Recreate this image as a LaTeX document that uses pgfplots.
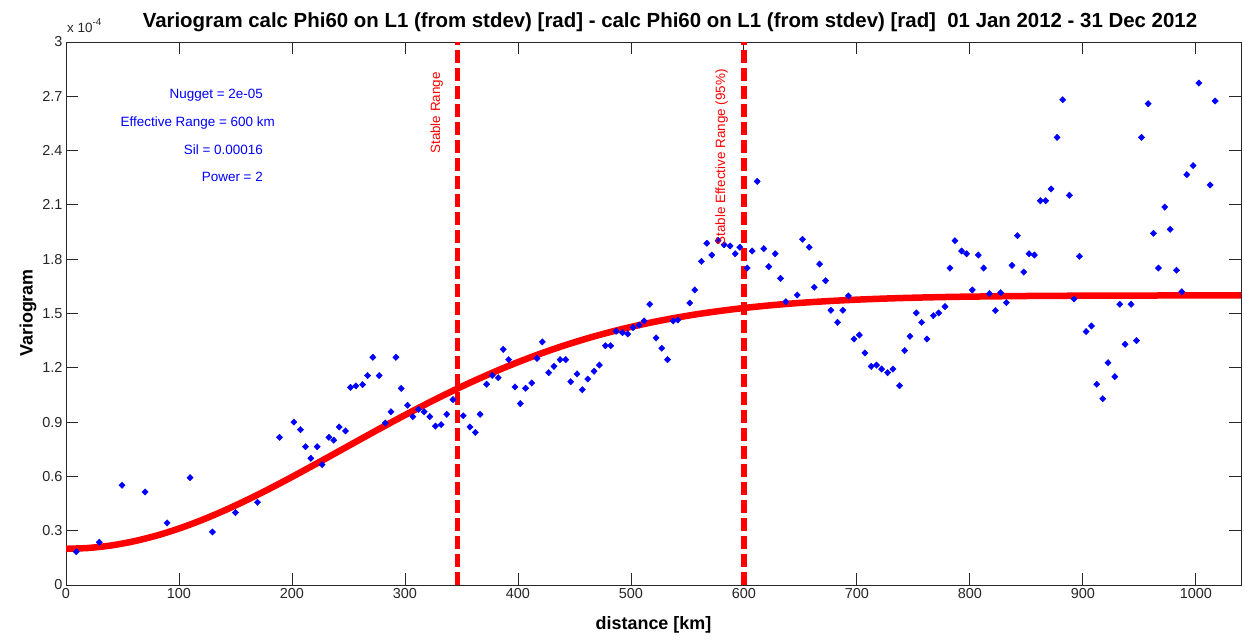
\documentclass[border=0pt]{standalone}
\usepackage{fontspec}
\setmainfont{Liberation Sans}
\usepackage{pgfplots}
\pgfplotsset{compat=1.18}
\definecolor{mblue}{RGB}{0,0,255}
\definecolor{mred}{RGB}{255,0,0}
\begin{document}
\begin{tikzpicture}[x=1bp,y=1bp]
\path[use as bounding box] (0,0) rectangle (1244,642);
\begin{axis}[
  at={(66bp,57bp)}, anchor=south west,
  scale only axis, width=1175bp, height=543bp,
  xmin=0, xmax=1040, ymin=0, ymax=3,
  xtick={0,100,200,300,400,500,600,700,800,900,1000},
  xticklabels={0,100,200,300,400,500,600,700,800,900,1000},
  ytick={0,0.3,0.6,0.9,1.2,1.5,1.8,2.1,2.4,2.7,3},
  yticklabels={0,0.3,0.6,0.9,1.2,1.5,1.8,2.1,2.4,2.7,3},
  tick pos=both, xticklabel pos=lower, yticklabel pos=left,
  tick align=inside, major tick length=12bp,
  tick style={black!85, line width=0.8bp},
  axis line style={black!85, line width=0.8bp},
  ticklabel style={font=\fontsize{14.5}{16}\selectfont, black!85},
  /pgf/number format/assume math mode=true,
  clip=true,
]
% data points
\addplot[only marks, mark=diamond*, mark size=3.2bp, mblue, mark options={draw=mblue, fill=mblue, xscale=1.3}] coordinates {
(9.1,0.184) (29.5,0.236) (49.6,0.551) (70,0.514) (89.5,0.343) (109.8,0.593)
(129.6,0.293) (150,0.40) (169.5,0.457) (189,0.816) (201.7,0.90) (207.5,0.858)
(212,0.764) (216.7,0.70) (222.3,0.764) (226.7,0.665) (232.7,0.816) (237,0.80)
(241.8,0.873) (247.4,0.851) (251.8,1.092) (256.6,1.10) (262.5,1.107) (266.9,1.157)
(271.6,1.258) (277.2,1.157) (282.6,0.895) (287.6,0.957) (292,1.258) (296.7,1.086)
(302.3,0.993) (307,0.93) (312,0.97) (317,0.957) (322,0.93) (327,0.878)
(332,0.886) (337,0.943) (342.5,1.024) (351.6,0.935) (357.5,0.873) (362.3,0.843)
(366.5,0.943) (372.3,1.109) (377.3,1.158) (382.6,1.145) (387,1.302) (391.8,1.245)
(397.4,1.094) (402.1,1.002) (406.8,1.087) (412.2,1.116) (416.9,1.252) (421.6,1.343)
(427.2,1.173) (431.9,1.208) (437.3,1.245) (442.3,1.245) (446.7,1.123) (452.3,1.166)
(457,1.079) (461.8,1.138) (467.4,1.181) (472.1,1.215) (477.4,1.322) (482.1,1.322)
(486.9,1.402) (492.5,1.394) (497.2,1.387) (501.9,1.422) (507.3,1.436) (511.7,1.459)
(516.7,1.551) (522.3,1.365) (527.3,1.308) (532.4,1.245) (537.4,1.459) (541.5,1.464)
(552.1,1.558) (556.5,1.63) (562.4,1.788) (567.2,1.888) (571.6,1.823) (577.2,1.903)
(582.5,1.880) (587.8,1.873) (592.3,1.830) (596.4,1.866) (602.9,1.751) (607.3,1.845)
(611.8,2.230) (617.6,1.858) (622,1.759) (627.7,1.830) (632.4,1.694) (637.1,1.565)
(647.2,1.602) (651.9,1.910) (657.8,1.866) (662.3,1.645) (667,1.773) (672.3,1.681)
(677,1.518) (682.9,1.451) (687.6,1.518) (692.5,1.597) (697.5,1.359) (702.2,1.381)
(707.1,1.282) (712.7,1.208) (717.4,1.215) (721.9,1.193) (727.2,1.173) (731.9,1.193)
(737.8,1.101) (742.3,1.295) (747,1.374) (752.6,1.503) (757.3,1.451) (762,1.359)
(767.7,1.488) (772.4,1.503) (778,1.538) (782.4,1.751) (786.8,1.902) (792.7,1.845)
(797.1,1.830) (802.2,1.630) (807.5,1.823) (812.2,1.751) (817.3,1.61) (822.6,1.516)
(827.3,1.615) (832.3,1.560) (837.3,1.766) (842.1,1.930) (847.7,1.729) (852.4,1.830)
(857.1,1.823) (862.4,2.123) (867.1,2.123) (871.9,2.188) (877.2,2.473) (882.2,2.681)
(888.1,2.153) (892.2,1.580) (897,1.816) (902.9,1.400) (907.6,1.431) (912.3,1.109)
(917.6,1.029) (922.3,1.228) (928.3,1.151) (932.7,1.551) (937.4,1.330) (942.7,1.551)
(947.5,1.350) (951.9,2.473) (957.8,2.659) (962.5,1.943) (966.9,1.751) (972.5,2.088)
(977.3,1.965) (982.9,1.739) (987.6,1.62) (992,2.267) (997.6,2.317) (1002.7,2.773)
(1012.7,2.210) (1017.1,2.674)
};
% model curve
\addplot[mred, line width=6.5bp, smooth, no markers] coordinates {
(0,0.2) (20,0.2047) (40,0.2185) (60,0.2414) (80,0.2727) (100,0.3119)
(120,0.3583) (140,0.4110) (160,0.4690) (180,0.5313) (200,0.5969) (220,0.6647)
(240,0.7337) (260,0.8030) (280,0.8716) (300,0.9387) (320,1.0036) (340,1.0657)
(360,1.1246) (380,1.1797) (400,1.2310) (420,1.2781) (440,1.3211) (460,1.3599)
(480,1.3947) (500,1.4257) (520,1.4529) (540,1.4767) (560,1.4974) (580,1.5151)
(600,1.5303) (620,1.5431) (640,1.5539) (660,1.5629) (680,1.5703) (700,1.5764)
(720,1.5814) (740,1.5854) (760,1.5886) (780,1.5912) (800,1.5932) (850,1.5966)
(900,1.5984) (950,1.5992) (1000,1.5997) (1040,1.5999)
};
% range lines
\addplot[mred, line width=5.5bp, dash pattern=on 13bp off 5bp, no markers] coordinates {(346.4,0) (346.4,3)};
\addplot[mred, line width=5.5bp, dash pattern=on 13bp off 5bp, no markers] coordinates {(600,0) (600,3)};
\end{axis}
% texts
\node[anchor=base, font=\bfseries\fontsize{20.5}{22}\selectfont] at (670,614) {Variogram calc Phi60 on L1 (from stdev) [rad] - calc Phi60 on L1 (from stdev) [rad]\ \ 01 Jan 2012 - 31 Dec 2012};
\node[anchor=base west, inner sep=0pt, font=\fontsize{13.5}{15}\selectfont, black!85] at (67,609) {x 10\raisebox{7bp}{\fontsize{10}{12}\selectfont -4}};
\node[font=\bfseries\fontsize{18}{20}\selectfont] at (653.5,17) {distance [km]};
\node[rotate=90, font=\bfseries\fontsize{18}{20}\selectfont] at (28,329) {Variogram};
\begin{scope}[every node/.style={anchor=east, inner sep=0pt, text=mblue, font=\fontsize{13.5}{15}\selectfont}]
\node at (263,547) {Nugget = 2e-05};
\node at (275,519.3) {Effective Range = 600 km};
\node at (263,492) {Sil = 0.00016};
\node at (263,465) {Power = 2};
\end{scope}
\begin{scope}[every node/.style={anchor=east, rotate=90, inner sep=0pt, text=mred, font=\fontsize{13.5}{15}\selectfont}]
\node at (436.7,570) {Stable Range};
\node at (721.7,573) {Stable Effective Range (95\%)};
\end{scope}
\end{tikzpicture}
\end{document}
